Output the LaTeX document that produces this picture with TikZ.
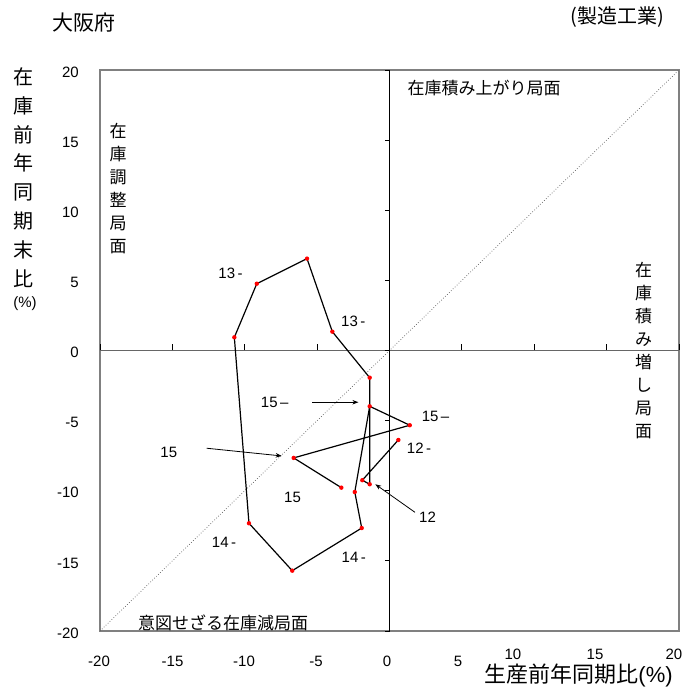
\documentclass[tikz,border=0pt]{standalone}
\usepackage{fontspec}
\setmainfont{Liberation Sans}
\newfontfamily\jp{Noto Sans CJK JP}
\usetikzlibrary{arrows.meta}
\tikzset{
  num/.style={font=\fontsize{15}{18}\selectfont,inner sep=0pt},
  jtext/.style={font=\jp\fontsize{17}{20}\selectfont,inner sep=0pt},
  jcol/.style={font=\jp\fontsize{17}{23}\selectfont,align=center,inner sep=0pt},
  pointer/.style={-{Stealth[length=6pt,width=4.5pt]},line width=0.8pt},
}
\begin{document}
\begin{tikzpicture}[x=14.475pt,y=14.025pt]
	\useasboundingbox (-26.91,24.99) rectangle (21.38,-24.49);
	\draw[gray,line width=1.2pt] (-20,-20) rectangle (20,20);
	\draw[black!65,dotted,line width=0.7pt] (-20,-20) -- (20,20);
	\draw[gray!80!black,line width=1.8pt] (-20,0) -- (20,0);
	\draw[line width=0.9pt] (0,-20) -- (0,20);
	\foreach \v in {-20,-15,...,20} {
		\draw[line width=0.8pt] (0,\v) -- ++(-5pt,0);
		\draw[line width=0.8pt] (\v,0) -- ++(0,6pt);
		\node[num,anchor=east] at (-21.45,\v-0.15) {\v};
	}
	\foreach \v/\x/\y in {-20/-20.07/-22.14,-15/-14.99/-22.14,-10/-10.05/-22.14,-5/-5.08/-22.14,
		0/-0.17/-22.14,5/4.73/-22.14,10/8.53/-21.64,15/14.2/-21.64,20/19.65/-21.64}
		\node[num] at (\x,\y) {\v};

	% titles
	\node[font=\jp\fontsize{21}{24}\selectfont] (pref) at (-21.09,23.37) {大阪府};
	\node[font=\jp\fontsize{20}{24}\selectfont] (sector) at (15.75,23.8) {(製造工業)};
	\node[font=\jp\fontsize{20}{28.8}\selectfont,align=center] (ytitle) at (-25.30,12.34)
		{在\\庫\\前\\年\\同\\期\\末\\比};
	\node[font=\fontsize{15}{18}\selectfont] (yunit) at (-25.18,3.32) {(\%)};
	\node[font=\fontsize{22}{26}\selectfont] (xtitle) at (13.06,-23.14) {{\jp 生産前年同期比}(\%)};

	% phases
	\node[jtext] (up) at (6.53,18.70) {在庫積み上がり局面};
	\node[jtext] (down) at (-11.50,-19.45) {意図せざる在庫減局面};
	\node[jcol] (adjust) at (-18.75,11.56) {在\\庫\\調\\整\\局\\面};
	\node[jcol] (build) at (17.55,-0.03) {在\\庫\\積\\み\\増\\し\\局\\面};

	% quarters
	\coordinate (p12a) at (0.61,-6.38);
	\coordinate (p12b) at (-1.88,-9.25);
	\coordinate (p12c) at (-1.37,-9.54);
	\coordinate (p12d) at (-1.37,-1.94);
	\coordinate (p13a) at (-3.95,1.34);
	\coordinate (p13b) at (-5.70,6.55);
	\coordinate (p13c) at (-9.17,4.76);
	\coordinate (p13d) at (-10.72,0.94);
	\coordinate (p14a) at (-9.71,-12.32);
	\coordinate (p14b) at (-6.72,-15.70);
	\coordinate (p14c) at (-1.92,-12.66);
	\coordinate (p14d) at (-2.40,-10.09);
	\coordinate (p15a) at (-1.37,-3.98);
	\coordinate (p15b) at (1.40,-5.33);
	\coordinate (p15c) at (-6.62,-7.66);
	\coordinate (p15d) at (-3.33,-9.78);
	\draw[line width=1.2pt,line join=round] (p12a) -- (p12b) -- (p12c) -- (p12d) -- (p13a) -- (p13b)
		-- (p13c) -- (p13d) -- (p14a) -- (p14b) -- (p14c) -- (p14d) -- (p15a) -- (p15b) -- (p15c) -- (p15d);
	\foreach \p in {p12a,p12b,p12c,p12d,p13a,p13b,p13c,p13d,p14a,p14b,p14c,p14d,p15a,p15b,p15c,p15d}
		\fill[red] (\p) circle (2.2pt);

	\node[num] (l13a) at (-10.98,5.50) {13\,-};
	\node[num] (l13b) at (-2.50,2.05) {13\,-};
	\node[num] (l14a) at (-11.43,-13.68) {14\,-};
	\node[num] (l14b) at (-2.47,-14.77) {14\,-};
	\node[num] (l15a) at (-7.93,-3.69) {15\,–};
	\node[num] (l15b) at (3.18,-4.69) {15\,–};
	\node[num] (l12a) at (2.04,-6.95) {12\,-};
	\node[num] (l12b) at (2.63,-11.87) {12};
	\node[num] (l15c) at (-15.25,-7.26) {15};
	\node[num] (l15d) at (-6.70,-10.50) {15};

	\coordinate (a1s) at (-5.35,-3.69);
	\coordinate (a1e) at (-2.15,-3.69);
	\coordinate (a2s) at (-12.63,-6.97);
	\coordinate (a2e) at (-7.45,-7.52);
	\coordinate (a3s) at (1.76,-11.54);
	\coordinate (a3e) at (-0.98,-9.54);
	\draw[pointer] (a1s) -- (a1e);
	\draw[pointer] (a2s) -- (a2e);
	\draw[pointer] (a3s) -- (a3e);
\end{tikzpicture}
\end{document}
